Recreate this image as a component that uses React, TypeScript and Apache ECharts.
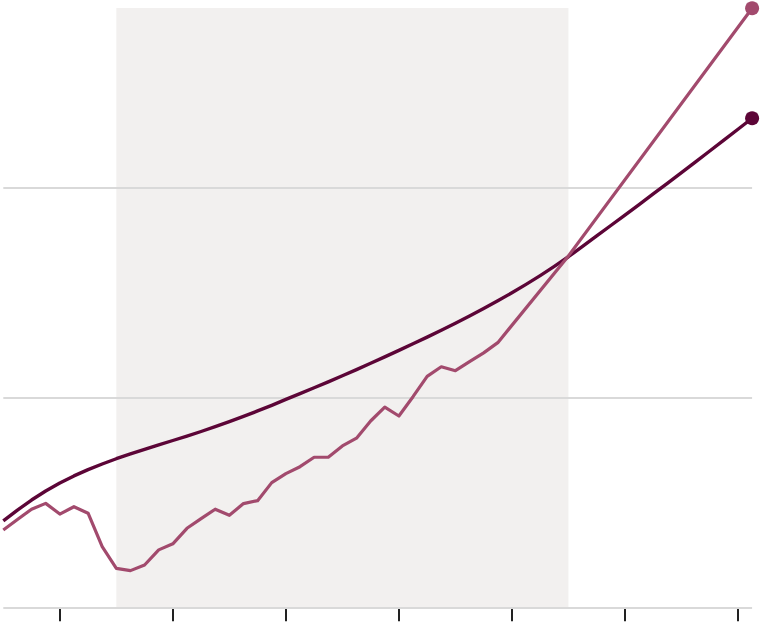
import React, { useEffect, useRef } from 'react';
import * as echarts from 'echarts';

// x is a period index (0..53); ticks every 8 periods, shaded span 8..40
const tickValues = [4, 12, 20, 28, 36, 44, 52];
const shadedSpan = [8, 40];

// smooth trend line, one value per period 0..53
const trendValues = [
  41.2, 46.4, 51.2, 55.5, 59.3, 62.7, 65.7, 68.4, 70.9, 73.2,
  75.4, 77.5, 79.6, 81.7, 83.9, 86.2, 88.6, 91.1, 93.7, 96.4,
  99.2, 101.95, 104.75, 107.6, 110.5, 113.45, 116.45, 119.5, 122.6, 125.75,
  128.95, 132.2, 135.55, 139.0, 142.55, 146.25, 150.1, 154.1, 158.3, 162.7,
  167.3, 172.2, 177.2, 182.2, 187.2, 192.2, 197.25, 202.35, 207.45, 212.6,
  217.75, 222.95, 228.15, 233.4,
];

// observed series: periods and values
const observedPeriods = [
  0, 1, 2, 3, 4, 5, 6, 7, 8, 9,
  10, 11, 12, 13, 14, 15, 16, 17, 18, 19,
  20, 21, 22, 23, 24, 25, 26, 27, 28, 29,
  30, 31, 32, 33, 34, 35, 40, 53,
];
const observedValues = [
  36.9, 41.9, 46.8, 49.6, 44.5, 48.0, 44.9, 28.9, 18.6, 17.5,
  20.2, 27.4, 30.3, 37.7, 42.3, 46.8, 43.9, 49.5, 50.9, 59.5,
  63.8, 67.1, 71.6, 71.6, 77.0, 80.7, 88.9, 95.5, 91.3, 100.5,
  110.2, 114.8, 112.9, 117.2, 121.4, 126.3, 167.7, 285.9,
];

const DARK = '#5c0537';
const PINK = '#a24a6d';

export default function App() {
  const chartRef = useRef<HTMLDivElement>(null);

  useEffect(() => {
    if (!chartRef.current) return;
    const chart = echarts.init(chartRef.current, null, { renderer: 'svg' });

    const trendData = trendValues.map((v, i) => [i, v]);
    const observedData = observedPeriods.map((p, i) => [p, observedValues[i]]);
    const lastTrend = trendData.length - 1;
    const lastObserved = observedData.length - 1;

    chart.setOption({
      animation: false,
      backgroundColor: '#ffffff',
      grid: { left: 3.3, right: 7.9, top: 8, bottom: 23.7 },
      xAxis: {
        type: 'value',
        min: 0,
        max: 53,
        offset: 9,
        axisLine: { show: false },
        axisTick: {
          show: true,
          customValues: tickValues,
          length: 14,
          lineStyle: { color: '#222222', width: 2 },
        },
        axisLabel: { show: false },
        splitLine: { show: false },
      },
      yAxis: {
        type: 'value',
        min: 0,
        max: 286,
        interval: 100,
        z: 2,
        axisLine: { show: false },
        axisTick: { show: false },
        axisLabel: { show: false },
        splitLine: {
          show: true,
          showMaxLine: false,
          lineStyle: { color: '#d9d9d9', width: 2 },
        },
      },
      series: [
        {
          type: 'line',
          z: 1,
          data: [],
          silent: true,
          markArea: {
            silent: true,
            itemStyle: { color: '#f2f0ef' },
            data: [[{ xAxis: shadedSpan[0] }, { xAxis: shadedSpan[1] }]],
          },
        },
        {
          type: 'line',
          z: 3,
          data: trendData,
          clip: false,
          symbol: 'circle',
          symbolSize: (_v: any, p: any) => (p.dataIndex === lastTrend ? 14 : 0),
          lineStyle: { color: DARK, width: 3.4, join: 'round' },
          itemStyle: { color: DARK },
        },
        {
          type: 'line',
          z: 4,
          data: observedData,
          clip: false,
          symbol: 'circle',
          symbolSize: (_v: any, p: any) => (p.dataIndex === lastObserved ? 14 : 0),
          lineStyle: { color: PINK, width: 3.2, join: 'round' },
          itemStyle: { color: PINK },
        },
      ],
    });

    return () => chart.dispose();
  }, []);

  return (
    <div
      ref={chartRef}
      style={{ position: 'fixed', left: 0, top: 0, width: '760px', height: '631px' }}
    />
  );
}
